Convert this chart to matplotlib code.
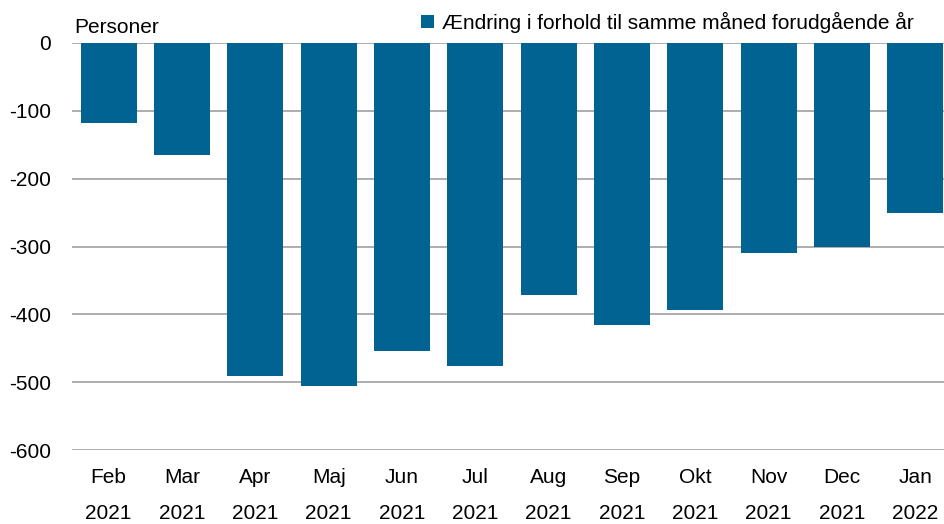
import matplotlib

matplotlib.use("Agg")
import matplotlib.pyplot as plt
import numpy as np

plt.rcParams["font.family"] = ["Liberation Sans", "DejaVu Sans"]

# Data
months = ["Feb", "Mar", "Apr", "Maj", "Jun", "Jul", "Aug", "Sep", "Okt", "Nov", "Dec", "Jan"]
years = ["2021"] * 11 + ["2022"]
change = [-118, -165, -491, -506, -454, -476, -372, -415, -393, -309, -301, -250]
series_label = "Ændring i forhold til samme måned forudgående år"
unit_label = "Personer"
yticks = [0, -100, -200, -300, -400, -500, -600]

bar_color = "#006392"
grid_color = "#a0a0a0"

fig = plt.figure(figsize=(9.44, 5.24), dpi=100)
# plot area runs a little past the right edge of the figure, as in the original
ax = fig.add_axes([72 / 944, 1 - 450 / 524, (952 - 72) / 944, (450 - 43) / 524])

x = np.arange(len(months))
ax.bar(x, change, width=0.765, color=bar_color, label=series_label, zorder=3)

ax.set_xlim(-0.5, len(months) - 0.5)
ax.set_ylim(-600, 0)
ax.set_yticks(yticks)
ax.set_yticklabels([str(v) for v in yticks])
ax.set_xticks(x)
ax.set_xticklabels([f"{m}\n{y}" for m, y in zip(months, years)], linespacing=2.1)

ax.grid(axis="y", color=grid_color, linewidth=1.2, zorder=0)
ax.tick_params(axis="both", length=0, labelsize=15)
ax.tick_params(axis="y", pad=15)
ax.tick_params(axis="x", pad=13)
for spine in ax.spines.values():
    spine.set_visible(False)

fig.text(74 / 944, 1 - 33 / 524, unit_label, fontsize=15, va="baseline", ha="left")

ax.legend(
    loc="center right",
    bbox_to_anchor=(914 / 944, 1 - 22 / 524),
    bbox_transform=fig.transFigure,
    frameon=False,
    fontsize=15,
    handlelength=0.6,
    handleheight=0.6,
    handletextpad=0.4,
    borderpad=0,
    borderaxespad=0,
)

fig.savefig("out.png", dpi=100)
plt.close(fig)
